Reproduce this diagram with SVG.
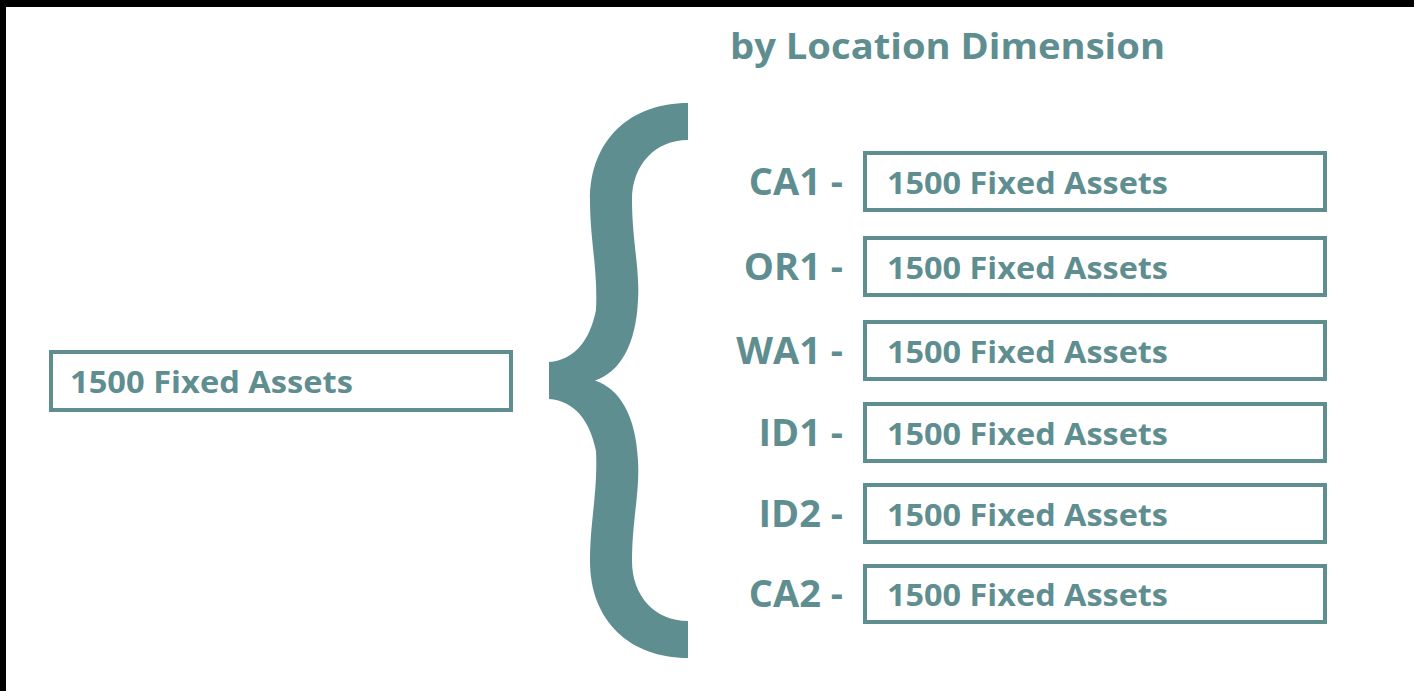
<svg xmlns="http://www.w3.org/2000/svg" width="1414" height="691" viewBox="0 0 1414 691">
<style>
.box{fill:#fff;stroke:#5f8e91;stroke-width:4}
.t{font-family:"Open Sans","Liberation Sans",sans-serif;font-weight:700;fill:#5f8e91;font-size:31px}
.lbl{font-family:"Open Sans","Liberation Sans",sans-serif;font-weight:700;fill:#5f8e91;font-size:38px;text-anchor:end}
.title{font-family:"Open Sans","Liberation Sans",sans-serif;font-weight:700;fill:#5f8e91;font-size:36px}
</style>
<rect x="0" y="0" width="1414" height="691" fill="#fff"/>
<rect x="0" y="0" width="1414" height="7" fill="#000"/>
<rect x="0" y="0" width="6" height="691" fill="#000"/>
<text class="title" x="730" y="59" textLength="435" lengthAdjust="spacingAndGlyphs">by Location Dimension</text>
<g id="source">
<rect class="box" x="51" y="352" width="460" height="58"/>
<text class="t" x="70" y="393" textLength="283" lengthAdjust="spacingAndGlyphs">1500 Fixed Assets</text>
</g>
<g id="connectors">
<path fill="#5f8e91" d="M549,362 C575,360 590,340 596,310 C598,270 590,240 590,200 C590,140 630,103 688,103 L688,140 C655,140 632,165 632,200 C632,240 640,270 638,300 C636,345 620,372 595,380.5 C620,389 636,416 638,461 C640,491 632,521 632,561 C632,596 655,621 688,621 L688,658 C630,658 590,621 590,561 C590,521 598,491 596,451 C590,421 575,401 549,399 Z"/>
</g>
<g id="ca1"><text class="lbl" x="843" y="195">CA1 -</text><rect class="box" x="865" y="153" width="460" height="57"/><text class="t" x="887" y="194" textLength="281" lengthAdjust="spacingAndGlyphs">1500 Fixed Assets</text></g>
<g id="or1"><text class="lbl" x="843" y="280">OR1 -</text><rect class="box" x="865" y="238" width="460" height="57"/><text class="t" x="887" y="279" textLength="281" lengthAdjust="spacingAndGlyphs">1500 Fixed Assets</text></g>
<g id="wa1"><text class="lbl" x="843" y="364">WA1 -</text><rect class="box" x="865" y="322" width="460" height="57"/><text class="t" x="887" y="363" textLength="281" lengthAdjust="spacingAndGlyphs">1500 Fixed Assets</text></g>
<g id="id1"><text class="lbl" x="843" y="446">ID1 -</text><rect class="box" x="865" y="404" width="460" height="57"/><text class="t" x="887" y="445" textLength="281" lengthAdjust="spacingAndGlyphs">1500 Fixed Assets</text></g>
<g id="id2"><text class="lbl" x="843" y="527">ID2 -</text><rect class="box" x="865" y="485" width="460" height="57"/><text class="t" x="887" y="526" textLength="281" lengthAdjust="spacingAndGlyphs">1500 Fixed Assets</text></g>
<g id="ca2"><text class="lbl" x="843" y="607">CA2 -</text><rect class="box" x="865" y="566" width="460" height="56"/><text class="t" x="887" y="606" textLength="281" lengthAdjust="spacingAndGlyphs">1500 Fixed Assets</text></g>
</svg>
